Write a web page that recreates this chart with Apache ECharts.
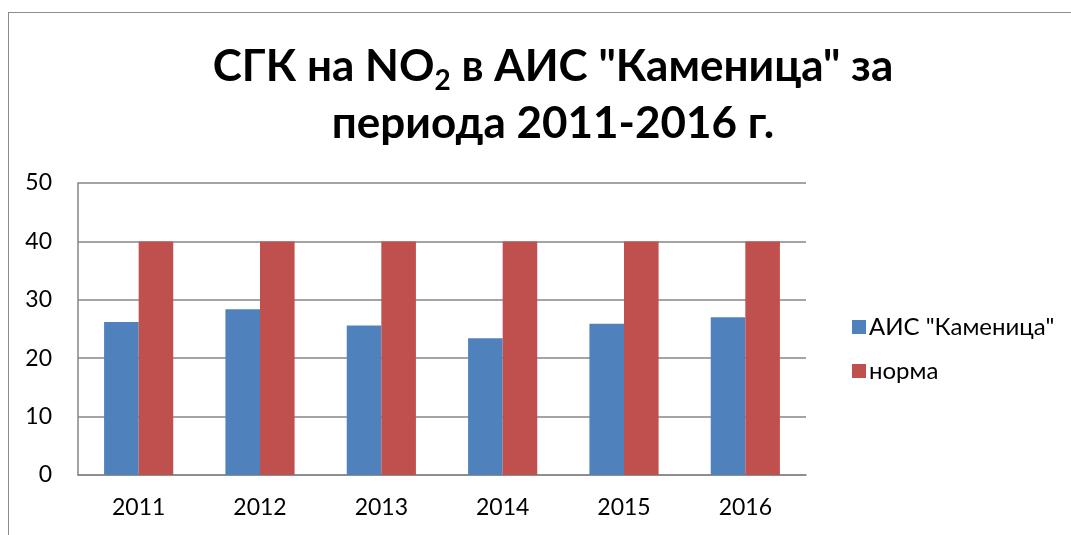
<!DOCTYPE html>
<html>
<head>
<meta charset="utf-8">
<script src="https://cdn.jsdelivr.net/npm/echarts@6/dist/echarts.min.js"></script>
<style>
    html, body { margin: 0; padding: 0; background: #fff; overflow: hidden; }
    #frame { position: absolute; left: 8px; top: 12px; width: 1200px; height: 700px; border: 1px solid #8c8c8c; }
    #main { position: absolute; left: 0; top: 0; width: 1071px; height: 535px; }
</style>
</head>
<body>
<div id="frame"></div>
<div id="main"></div>
<script>
// годините и стойностите
var years = ['2011', '2012', '2013', '2014', '2015', '2016'];
var kamenitsa = [26.2, 28.4, 25.6, 23.4, 25.9, 27.0];
var norma = [40, 40, 40, 40, 40, 40];

var myChart = echarts.init(document.getElementById('main'));
myChart.setOption({
    animation: false,
    title: {
        text: '{a|СГК на NO}{s|2}{a| в АИС "Каменица" за}\n{a|периода 2011-2016 г.}',
        left: 548,
        top: 33,
        textAlign: 'center',
        textStyle: {
            rich: {
                a: { fontFamily: 'Lato', fontWeight: 'bold', fontSize: 44, lineHeight: 57, color: '#000' },
                s: { fontFamily: 'Lato', fontWeight: 'bold', fontSize: 28, lineHeight: 32, verticalAlign: 'bottom', color: '#000' }
            }
        }
    },
    legend: {
        orient: 'vertical',
        left: 847,
        top: 310,
        itemWidth: 14,
        itemHeight: 14,
        itemGap: 20,
        icon: 'rect',
        textStyle: { fontFamily: 'Lato', fontSize: 24, color: '#000', padding: [0, 0, 0, -2] },
        data: ['АИС "Каменица"', 'норма']
    },
    grid: { left: 78, right: 265, top: 183, bottom: 60 },
    xAxis: {
        type: 'category',
        data: years,
        axisLine: { lineStyle: { color: '#868686', width: 1.5 } },
        axisTick: { show: false },
        axisLabel: { fontFamily: 'Lato', fontSize: 23, color: '#000', margin: 21 }
    },
    yAxis: {
        type: 'value',
        min: 0,
        max: 50,
        interval: 10,
        axisLine: { show: true, lineStyle: { color: '#868686', width: 1.5 } },
        axisTick: { show: false },
        splitLine: { lineStyle: { color: '#868686', width: 1.5 } },
        axisLabel: { fontFamily: 'Lato', fontSize: 23, color: '#000', margin: 26 }
    },
    series: [{
        name: 'АИС "Каменица"',
        type: 'bar',
        data: kamenitsa,
        barGap: '0%',
        barCategoryGap: '43%',
        itemStyle: { color: '#4f81bd' }
    }, {
        name: 'норма',
        type: 'bar',
        data: norma,
        itemStyle: { color: '#c0504d' }
    }]
});
</script>
</body>
</html>
